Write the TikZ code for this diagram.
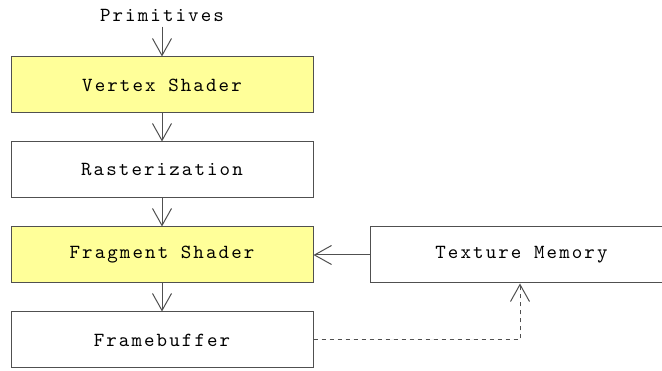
\documentclass[tikz,border=0pt]{standalone}
\usepackage{fontspec}
\usetikzlibrary{arrows.meta}
\definecolor{shaderfill}{HTML}{FFFF99}
\definecolor{edge}{HTML}{505050}
% spaced typewriter face for all labels
\newfontfamily\spacedmono[LetterSpace=10.5]{lmmono10-regular.otf}
\newcommand{\labelfont}{\spacedmono\fontsize{20}{24}\selectfont}
\begin{document}
\begin{tikzpicture}[x=1pt,y=-1pt,
  stage/.style={draw=edge,line width=1pt,minimum width=302pt,minimum height=56pt,
    inner sep=0pt,font=\labelfont},
  shader/.style={stage,fill=shaderfill},
  flow/.style={draw=edge,line width=1pt,-{Straight Barb[length=17pt,width=19pt,line width=1pt]}},
  feedback/.style={flow,dashed,dash pattern=on 4pt off 4pt}]
\useasboundingbox (0,0) rectangle (662,371);
\node[font=\labelfont] (prim) at (162,15) {Primitives};
\node[shader] (vs) at (162,85) {Vertex Shader};
\node[stage] (rast) at (162,170) {Rasterization};
\node[shader] (fs) at (162,255) {Fragment Shader};
\node[stage] (fb) at (162,340) {Framebuffer};
\node[stage,minimum width=293pt] (tex) at (516.5,255) {\hspace*{10pt}Texture Memory};
\coordinate (bend) at (520,340);
\draw[flow] (prim.south) ++(0,2) -- (vs.north);
\draw[flow] (vs) -- (rast);
\draw[flow] (rast) -- (fs);
\draw[flow] (fs) -- (fb);
\draw[flow] (tex) -- (fs);
\draw[feedback] (fb.east) -- (bend) -- (bend |- tex.south);
\end{tikzpicture}
\end{document}
